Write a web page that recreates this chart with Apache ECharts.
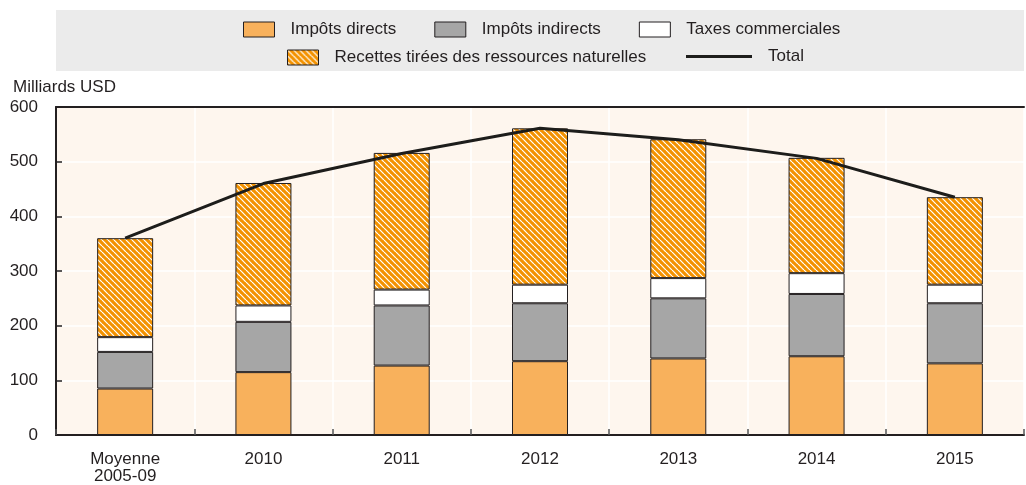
<!DOCTYPE html>
<html><head><meta charset="utf-8">
<script src="https://cdn.jsdelivr.net/npm/echarts@6/dist/echarts.min.js"></script>
<style>html,body{margin:0;padding:0;background:#fff}#c{width:1026px;height:485px}</style>
</head><body><div id="c"></div>
<script>
const categories = ['Moyenne\n2005-09', '2010', '2011', '2012', '2013', '2014', '2015'];
const impotsDirects = [85, 115, 127, 135, 140, 144, 131];
const impotsIndirects = [67, 92, 110, 106, 110, 114, 110];
const taxesCommerciales = [27, 30, 29, 34, 37, 38, 34];
const ressourcesNaturelles = [181, 224, 250, 286, 254, 211, 160];
const total = [360, 460, 515, 561, 540, 506, 435];
const yTicks = [0, 100, 200, 300, 400, 500, 600];

const FONT = '"Liberation Sans", Arial, sans-serif';
const TXT = '#231f20';

function hatch() {
  const s = 6;
  const cv = document.createElement('canvas');
  cv.width = s; cv.height = s;
  const g = cv.getContext('2d');
  g.fillStyle = '#F39200';
  g.fillRect(0, 0, s, s);
  g.strokeStyle = '#ffffff';
  g.lineWidth = 1.2;
  for (const k of [-s, 0, s]) {
    g.beginPath();
    g.moveTo(k, 0);
    g.lineTo(k + s, s);
    g.stroke();
  }
  return { image: cv, repeat: 'repeat' };
}

const chart = echarts.init(document.getElementById('c'), null, { renderer: 'canvas' });
const border = { borderColor: '#231f20', borderWidth: 1 };
const legendText = { fontFamily: FONT, fontSize: 17, color: TXT, padding: [0, 0, 0, 11] };

chart.setOption({
  animation: false,
  backgroundColor: '#ffffff',
  graphic: [{
    type: 'rect', left: 56, top: 10, z: -1,
    shape: { width: 968, height: 61 },
    style: { fill: '#EBEBEB' }
  }],
  title: {
    text: 'Milliards USD', left: 8, top: 74,
    textStyle: { fontFamily: FONT, fontSize: 17, fontWeight: 'normal', color: TXT }
  },
  legend: [
    {
      data: ['Impôts directs', 'Impôts indirects', 'Taxes commerciales'],
      left: 243, top: 21, padding: 0, itemWidth: 31, itemHeight: 15, itemGap: 38,
      icon: 'rect', textStyle: legendText,
      itemStyle: { borderColor: '#231f20', borderWidth: 1 }
    },
    {
      data: ['Recettes tirées des ressources naturelles'],
      left: 287, top: 49, padding: 0, itemWidth: 31, itemHeight: 15,
      icon: 'rect', textStyle: legendText,
      itemStyle: { borderColor: '#231f20', borderWidth: 1 }
    },
    {
      data: ['Total'],
      left: 686, top: 48, padding: 0, itemWidth: 66, itemHeight: 3,
      icon: 'rect', textStyle: legendText,
      itemStyle: { color: '#1d1d1b', borderWidth: 0 }
    }
  ],
  grid: {
    left: 56, right: 2, top: 107, bottom: 49,
    show: true, backgroundColor: '#FEF6EE', borderWidth: 0
  },
  xAxis: [{
    type: 'category', data: categories, boundaryGap: true,
    axisLine: { show: true, lineStyle: { color: '#231f20', width: 2 } },
    axisTick: { show: true, inside: true, length: 6, alignWithLabel: false, lineStyle: { color: '#555', width: 1.5 } },
    splitLine: { show: true, lineStyle: { color: '#ffffff', width: 1.5 } },
    axisLabel: { fontFamily: FONT, fontSize: 17, color: TXT, margin: 16, lineHeight: 17 }
  }, {
    type: 'category', data: categories, position: 'top',
    axisLine: { show: true, lineStyle: { color: '#231f20', width: 2 } },
    axisTick: { show: false }, axisLabel: { show: false }, splitLine: { show: false }
  }],
  yAxis: {
    type: 'value', min: 0, max: 600, interval: 100,
    axisLine: { show: true, lineStyle: { color: '#231f20', width: 2 } },
    axisTick: { show: true, inside: true, length: 6, lineStyle: { color: '#231f20', width: 1.5 } },
    splitLine: { show: true, lineStyle: { color: '#ffffff', width: 1.5 } },
    axisLabel: {
      fontFamily: FONT, fontSize: 17, color: TXT, margin: 18,
      formatter: v => yTicks.includes(v) ? String(v) : ''
    }
  },
  series: [
    { name: 'Impôts directs', type: 'bar', stack: 's', barWidth: 56, data: impotsDirects,
      itemStyle: Object.assign({ color: '#F8B15C' }, border) },
    { name: 'Impôts indirects', type: 'bar', stack: 's', barWidth: 56, data: impotsIndirects,
      itemStyle: Object.assign({ color: '#A6A6A6' }, border) },
    { name: 'Taxes commerciales', type: 'bar', stack: 's', barWidth: 56, data: taxesCommerciales,
      itemStyle: Object.assign({ color: '#ffffff' }, border) },
    { name: 'Recettes tirées des ressources naturelles', type: 'bar', stack: 's', barWidth: 56, data: ressourcesNaturelles,
      itemStyle: Object.assign({ color: hatch() }, border) },
    { name: 'Total', type: 'line', data: total, symbol: 'none', z: 5,
      lineStyle: { color: '#1d1d1b', width: 3 }, itemStyle: { color: '#1d1d1b' } }
  ]
});
</script>
</body></html>
